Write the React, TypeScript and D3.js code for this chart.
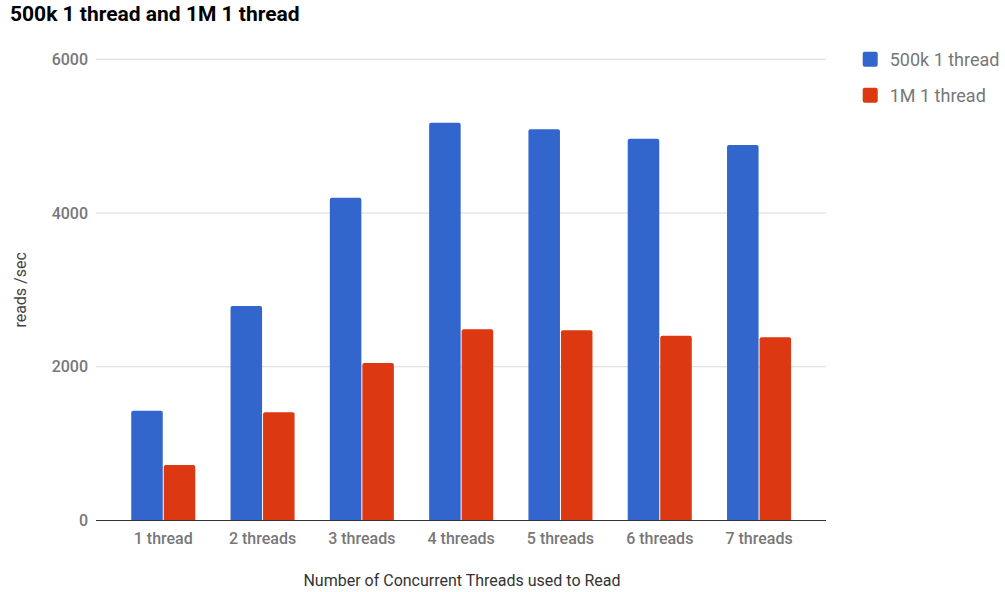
import React from "react";
import * as d3 from "d3";

const categories = ["1 thread", "2 threads", "3 threads", "4 threads", "5 threads", "6 threads", "7 threads"];
const seriesNames = ["500k 1 thread", "1M 1 thread"];
const series500k = [1428, 2790, 4200, 5175, 5090, 4967, 4885];
const series1M = [722, 1408, 2049, 2487, 2475, 2404, 2384];
const yTicks = [0, 2000, 4000, 6000];
const colors = ["#3366cc", "#dc3912"];

const W = 1005;
const H = 592;
const plotLeft = 96;
const plotRight = 826;
const plotTop = 59.3;
const plotBottom = 520.5;

function topRoundedBar(x: number, y: number, w: number, h: number, r: number) {
  const rr = Math.min(r, h / 2, w / 2);
  return `M${x},${y + h}V${y + rr}Q${x},${y} ${x + rr},${y}H${x + w - rr}Q${x + w},${y} ${x + w},${y + rr}V${y + h}Z`;
}

export default function App() {
  const x = d3.scaleBand<string>().domain(categories).range([113.6, 808.7]).paddingInner(0.355).paddingOuter(0.1775);
  const sub = d3.scaleBand<string>().domain(seriesNames).range([0, x.bandwidth()]).paddingInner(0.03);
  const y = d3.scaleLinear().domain([0, 6000]).range([plotBottom, plotTop]);
  const data = [series500k, series1M];
  const font = "Roboto, 'Noto Sans', Arial, sans-serif";

  return (
    <svg width={W} height={H} style={{ position: "absolute", left: 0, top: 0, background: "#fff" }} fontFamily={font}>
      <text x={10} y={21} fontSize={21} fontWeight="bold" fill="#000">500k 1 thread and 1M 1 thread</text>

      {yTicks.map((t) => (
        <g key={t}>
          {t !== 0 && <line x1={plotLeft} x2={plotRight} y1={y(t)} y2={y(t)} stroke="#d9d9d9" strokeWidth={1} />}
          <text x={88} y={y(t)} dy="0.35em" textAnchor="end" fontSize={16} fontWeight={500} fill="#777">{t}</text>
        </g>
      ))}

      {categories.map((c, i) => (
        <g key={c}>
          {data.map((vals, s) => {
            const bx = (x(c) as number) + (sub(seriesNames[s]) as number);
            const by = y(vals[i]);
            return (
              <path
                key={s}
                d={topRoundedBar(bx, by, sub.bandwidth(), plotBottom - by, 2)}
                fill={colors[s]}
              />
            );
          })}
          <text x={(x(c) as number) + x.bandwidth() / 2} y={538} dy="0.35em" textAnchor="middle" fontSize={16} fontWeight={500} fill="#777">{c}</text>
        </g>
      ))}

      <line x1={plotLeft} x2={plotRight} y1={plotBottom} y2={plotBottom} stroke="#333" strokeWidth={1} />

      <text transform={`translate(20,${(plotTop + plotBottom) / 2}) rotate(-90)`} dy="0.35em" textAnchor="middle" fontSize={16} fill="#444">reads /sec</text>
      <text x={462} y={580} dy="0.35em" textAnchor="middle" fontSize={16} fill="#333">Number of Concurrent Threads used to Read</text>

      {seriesNames.map((n, i) => (
        <g key={n} transform={`translate(862.7,${51.7 + i * 36})`}>
          <rect width={15} height={15} rx={2} fill={colors[i]} />
          <text x={27} y={7.5} dy="0.35em" fontSize={18} fill="#777">{n}</text>
        </g>
      ))}
    </svg>
  );
}
